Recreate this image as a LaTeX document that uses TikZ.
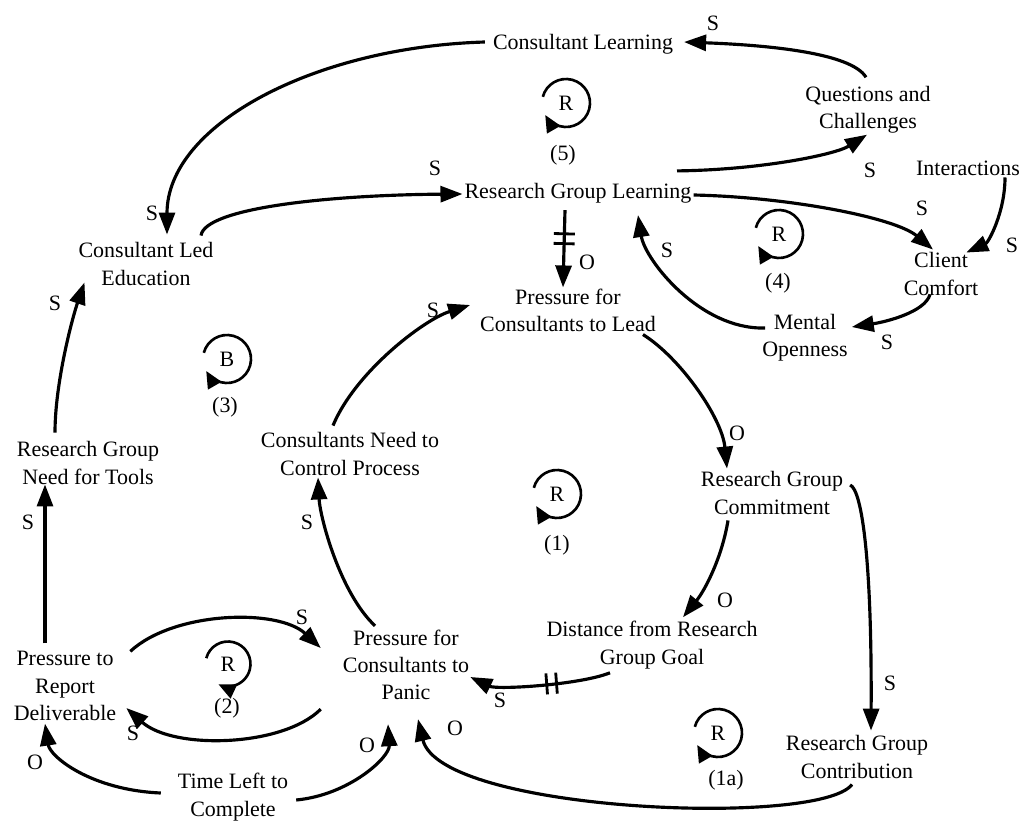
\documentclass[tikz,border=0pt]{standalone}
\usepackage{fontspec}
\setmainfont{Liberation Serif}
\usetikzlibrary{arrows.meta,calc,decorations.markings}

\begin{document}
\begin{tikzpicture}[x=0.02cm, y=-0.02cm,
  var/.style={align=center, inner sep=1pt, font=\fontsize{12.5}{15.5}\selectfont},
  lbl/.style={inner sep=0pt, font=\fontsize{12.5}{15}\selectfont},
  link/.style={line width=1.8pt, -{Triangle[length=0.44cm,width=0.32cm]}},
  loopline/.style={line width=1.5pt, -{Triangle[length=0.34cm,width=0.3cm]}},
  delay/.style={postaction={decorate}, decoration={markings, mark=at position #1 with
    {\draw[line width=1.6pt,-] (-2.8pt,-6pt) -- (-2.8pt,6pt) (2.8pt,-6pt) -- (2.8pt,6pt);}}}]
  \useasboundingbox (0,0) rectangle (1035,821);

  % variables
  \node[var] (cl) at (583,44) {Consultant Learning};
  \node[var] (qc) at (868,110) {Questions and\\Challenges};
  \node[var] (rgl) at (578,193) {Research Group Learning};
  \node[var] (int) at (968,168) {Interactions};
  \node[var] (cle) at (146,264) {Consultant Led\\Education};
  \node[var] (cc) at (941,274) {Client\\Comfort};
  \node[var] (mo) at (805,338) {Mental\\Openness};
  \node[var] (pcl) at (568,310) {Pressure for\\Consultants to Lead};
  \node[var] (rgn) at (88,463) {Research Group\\Need for Tools};
  \node[var] (cnc) at (350,454) {Consultants Need to\\Control Process};
  \node[var] (rgc) at (772,493) {Research Group\\Commitment};
  \node[var] (dist) at (652,645) {Distance from Research\\Group Goal};
  \node[var] (pcp) at (406,665) {Pressure for\\Consultants to\\Panic};
  \node[var] (prd) at (65,686) {Pressure to\\Report\\Deliverable};
  \node[var] (tlc) at (233,797) {Time Left to\\Complete};
  \node[var] (rgco) at (857,757) {Research Group\\Contribution};

  % loops
  \node[lbl] (r5) at (566,103) {R};
  \draw[loopline] ([shift={(165:0.48cm)}]r5.center) arc[start angle=165, end angle=-150, radius=0.48cm];
  \node[lbl] (n5) at (563,155) {(5)};
  \node[lbl] (r4) at (779,234) {R};
  \draw[loopline] ([shift={(165:0.48cm)}]r4.center) arc[start angle=165, end angle=-150, radius=0.48cm];
  \node[lbl] (n4) at (778,283) {(4)};
  \node[lbl] (b3) at (227,359) {B};
  \draw[loopline] ([shift={(165:0.48cm)}]b3.center) arc[start angle=165, end angle=-150, radius=0.48cm];
  \node[lbl] (n3) at (225,407) {(3)};
  \node[lbl] (r1) at (557,494) {R};
  \draw[loopline] ([shift={(165:0.48cm)}]r1.center) arc[start angle=165, end angle=-150, radius=0.48cm];
  \node[lbl] (n1) at (557,545) {(1)};
  \node[lbl] (r2) at (228,664) {R};
  \draw[loopline] ([shift={(165:0.45cm)}]r2.center) arc[start angle=165, end angle=-115, radius=0.45cm];
  \node[lbl] (n2) at (227,708) {(2)};
  \node[lbl] (r1a) at (718,733) {R};
  \draw[loopline] ([shift={(165:0.48cm)}]r1a.center) arc[start angle=165, end angle=-150, radius=0.48cm];
  \node[lbl] (n1a) at (726,780) {(1a)};

  % links
  \draw[link] ($(qc.north)+(-2,-7)$) .. controls +(-15,-25) and +(80,3) .. ($(cl.east)+(9,-2)$);
  \draw[link] ($(cl.west)+(-6,-2)$) .. controls +(-170,5) and +(0,-110) .. ($(cle.north)+(21,-6)$);
  \draw[link] ($(cle.north)+(55,-5)$) .. controls +(4,-28) and +(-131,1) .. ($(rgl.west)+(0,1)$);
  \draw[link] ($(rgl.north)+(99,-10)$) .. controls +(83,-1) and +(-32,20) .. ($(qc.south)+(-1,-1)$);
  \draw[link] ($(rgl.east)+(0,2)$) .. controls +(95,2) and +(-38,-32) .. ($(cc.north)+(-8,-1)$);
  \draw[link] ($(int.south)+(37,0)$) .. controls +(0,35) and +(22,-10) .. ($(cc.north east)+(-14,2)$);
  \draw[link] ($(cc.south)+(-11,-3)$) .. controls +(-5,18) and +(33,-5) .. ($(mo.east)+(2,-11)$);
  \draw[link] ($(mo.west)+(5,-10)$) .. controls +(-65,2) and +(7,45) .. ($(rgl.south)+(60,10)$);
  \draw[link, delay=0.37] ($(rgl.south)+(-13,5)$) -- ($(pcl.north)+(-5,1)$);
  \draw[link] ($(pcl.south)+(75,1)$) .. controls +(37,23) and +(-5,-51) .. ($(rgc.north)+(-45,-1)$);
  \draw[link] ($(rgc.south)+(-44,4)$) .. controls +(-6,37) and +(22,-27) .. ($(dist.north)+(31,-2)$);
  \draw[link] ($(rgc.east)+(5,-8)$) .. controls +(12,5) and +(1,-168) .. ($(rgco.north)+(14,-3)$);
  \draw[link, delay=0.42] ($(dist.south)+(-42,2)$) .. controls +(-30,12) and +(27,13) .. ($(pcp.east)+(-1,12)$);
  \draw[link] ($(rgco.south)+(-5,4)$) .. controls +(-32,43) and +(22,93) .. ($(pcp.south)+(12,17)$);
  \draw[link] ($(tlc.east)+(6,3)$) .. controls +(53,-5) and +(2,33) .. ($(pcp.south)+(-18,22)$);
  \draw[link] ($(tlc.west)+(-15,-4)$) .. controls +(-70,-3) and +(5,33) .. ($(prd.south)+(-20,1)$);
  \draw[link] ($(prd.north east)+(12,2)$) .. controls +(43,-40) and +(-43,-40) .. ($(pcp.west)+(-20,-17)$);
  \draw[link] ($(pcp.south west)+(-20,7)$) .. controls +(-38,38) and +(47,42) .. ($(prd.east)+(8,22)$);
  \draw[link] ($(prd.north)+(-20,-6)$) -- ($(rgn.south)+(-43,-2)$);
  \draw[link] ($(rgn.north)+(-33,-7)$) .. controls +(0,-50) and +(-12,35) .. ($(cle.south west)+(8,-5)$);
  \draw[link] ($(pcp.north)+(-31,-2)$) .. controls +(-35,-33) and +(2,40) .. ($(cnc.south)+(-32,0)$);
  \draw[link] ($(cnc.north)+(-17,-5)$) .. controls +(22,-53) and +(-47,15) .. ($(pcl.west)+(-8,-5)$);

  % polarities
  \node[lbl] (p1) at (713,23) {S};
  \node[lbl] (p2) at (152,213) {S};
  \node[lbl] (p3) at (435,168) {S};
  \node[lbl] (p4) at (870,170) {S};
  \node[lbl] (p5) at (922,208) {S};
  \node[lbl] (p6) at (1012,245) {S};
  \node[lbl] (p7) at (887,342) {S};
  \node[lbl] (p8) at (667,250) {S};
  \node[lbl] (p9) at (587,262) {O};
  \node[lbl] (p10) at (737,433) {O};
  \node[lbl] (p11) at (725,600) {O};
  \node[lbl] (p12) at (890,683) {S};
  \node[lbl] (p13) at (500,700) {S};
  \node[lbl] (p14) at (455,728) {O};
  \node[lbl] (p15) at (367,745) {O};
  \node[lbl] (p16) at (35,762) {O};
  \node[lbl] (p17) at (302,617) {S};
  \node[lbl] (p18) at (133,733) {S};
  \node[lbl] (p19) at (28,522) {S};
  \node[lbl] (p20) at (55,303) {S};
  \node[lbl] (p21) at (307,522) {S};
  \node[lbl] (p22) at (433,310) {S};
\end{tikzpicture}
\end{document}
